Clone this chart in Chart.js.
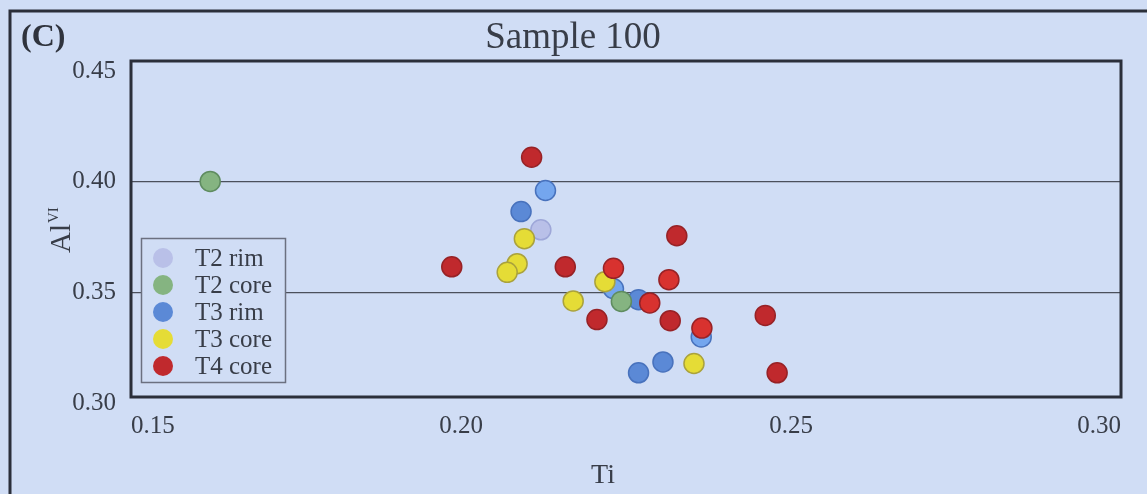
<!DOCTYPE html>
<html>
<head>
<meta charset="utf-8">
<title>Sample 100</title>
<script src="https://cdn.jsdelivr.net/npm/chart.js@4.4.0/dist/chart.umd.min.js"></script>
<style>
  html, body { margin: 0; padding: 0; background: #d0ddf5; }
  #wrapper { position: relative; width: 1147px; height: 494px; }
</style>
</head>
<body>
<div id="wrapper"><canvas id="chart"></canvas></div>
<script>
var seriesLabels = ['T2 rim', 'T2 core', 'T3 rim', 'T3 core', 'T4 core'];

var t2RimTi = [0.2121];
var t2RimAl = [0.3784];
var t2CoreTi = [0.1620, 0.2243];
var t2CoreAl = [0.4002, 0.3461];
var t3RimTi = [0.2128, 0.2091, 0.2231, 0.2269, 0.2364, 0.2306, 0.2269];
var t3RimAl = [0.3961, 0.3866, 0.3518, 0.3469, 0.3301, 0.3188, 0.3139];
var t3CoreTi = [0.2096, 0.2085, 0.2070, 0.2218, 0.2170, 0.2353];
var t3CoreAl = [0.3744, 0.3631, 0.3592, 0.3550, 0.3463, 0.3181];
var t4CoreTi = [0.2107, 0.1986, 0.2158, 0.2231, 0.2286, 0.2206, 0.2327, 0.2315, 0.2317, 0.2365, 0.2461, 0.2479];
var t4CoreAl = [0.4111, 0.3617, 0.3617, 0.3610, 0.3454, 0.3379, 0.3757, 0.3559, 0.3374, 0.3341, 0.3398, 0.3139];

var xTicks = [0.15, 0.20, 0.25, 0.30];
var yTicks = [0.30, 0.35, 0.40, 0.45];
var yGrid = [0.35, 0.40];

var fills = ['#b9c0e8', '#85b481', '#5b89d6', '#e5dc36', '#c0292d'];
var borders = ['#9ea7d8', '#5f8c60', '#4872bd', '#aaa23c', '#972226'];
// some markers in the original carry a lighter fill with a ring
var t3RimFills = ['#74a6ee', '#5b89d6', '#74a6ee', '#5b89d6', '#74a6ee', '#5b89d6', '#5b89d6'];
var t4CoreFills = ['#c0292d', '#c0292d', '#c0292d', '#d8322f', '#d8322f', '#c0292d',
                   '#c0292d', '#d8322f', '#c0292d', '#d8322f', '#c0292d', '#c0292d'];
// later series sit on top, like the original
var drawOrder = [4, 3, 5, 2, 1];

var bg = '#d0ddf5';
var ink = '#383d48';
var serif = '"Liberation Serif", "Times New Roman", serif';

function toPoints(xs, ys) {
    var pts = [];
    for (var i = 0; i < xs.length; i++) {
        pts.push({ x: xs[i], y: ys[i] });
    }
    return pts;
}

var allTi = [t2RimTi, t2CoreTi, t3RimTi, t3CoreTi, t4CoreTi];
var allAl = [t2RimAl, t2CoreAl, t3RimAl, t3CoreAl, t4CoreAl];
var pointFills = [fills[0], fills[1], t3RimFills, fills[3], t4CoreFills];

var datasets = [];
for (var s = 0; s < seriesLabels.length; s++) {
    datasets.push({
        label: seriesLabels[s],
        data: toPoints(allTi[s], allAl[s]),
        backgroundColor: pointFills[s],
        borderColor: borders[s],
        borderWidth: 1.5,
        pointRadius: 10,
        pointHoverRadius: 10,
        order: drawOrder[s]
    });
}

var decorations = {
    id: 'decorations',
    beforeDraw: function(chart) {
        var ctx = chart.ctx;
        ctx.save();
        ctx.fillStyle = bg;
        ctx.fillRect(0, 0, chart.width, chart.height);
        ctx.restore();
    },
    afterDraw: function(chart) {
        var ctx = chart.ctx;
        var a = chart.chartArea;
        ctx.save();

        // outer panel frame
        ctx.strokeStyle = '#2b2f3a';
        ctx.lineWidth = 3;
        ctx.beginPath();
        ctx.moveTo(10, chart.height);
        ctx.lineTo(10, 11);
        ctx.lineTo(chart.width, 11);
        ctx.stroke();

        // plot frame
        ctx.lineWidth = 3;
        ctx.strokeRect(a.left, a.top, a.right - a.left, a.bottom - a.top);

        // legend
        ctx.fillStyle = bg;
        ctx.fillRect(141, 238, 145, 145);
        ctx.strokeStyle = '#6b7080';
        ctx.lineWidth = 1.5;
        ctx.strokeRect(141.5, 238.5, 144, 144);
        ctx.font = '25px ' + serif;
        ctx.textBaseline = 'middle';
        ctx.textAlign = 'left';
        for (var i = 0; i < seriesLabels.length; i++) {
            var cy = 258 + i * 27;
            ctx.beginPath();
            ctx.arc(163, cy, 10, 0, Math.PI * 2);
            ctx.fillStyle = fills[i];
            ctx.fill();
            ctx.fillStyle = ink;
            ctx.fillText(seriesLabels[i], 195, cy + 1);
        }

        // panel letter and title
        ctx.textBaseline = 'alphabetic';
        ctx.fillStyle = '#2f333d';
        ctx.font = 'bold 32px ' + serif;
        ctx.fillText('(C)', 21, 46);
        ctx.fillStyle = ink;
        ctx.font = '37px ' + serif;
        ctx.textAlign = 'center';
        ctx.fillText('Sample 100', 573, 48);

        // x axis title
        ctx.font = '28px ' + serif;
        ctx.fillText('Ti', 603, 483);

        // y axis title, Al with superscript VI
        ctx.translate(70, 253);
        ctx.rotate(-Math.PI / 2);
        ctx.textAlign = 'left';
        ctx.font = '29px ' + serif;
        ctx.fillText('Al', 0, 0);
        var w = ctx.measureText('Al').width;
        ctx.font = '15px ' + serif;
        ctx.fillText('VI', w + 1, -12);

        ctx.restore();
    }
};

var ctx = document.getElementById('chart');
var myChart = new Chart(ctx, {
    type: 'scatter',
    data: { datasets: datasets },
    options: {
        responsive: true,
        maintainAspectRatio: false,
        animation: false,
        events: [],
        layout: { padding: { top: 61, right: 26, bottom: 0, left: 0 } },
        plugins: {
            legend: { display: false },
            title: { display: false },
            tooltip: { enabled: false }
        },
        scales: {
            x: {
                type: 'linear',
                min: 0.15,
                max: 0.30,
                afterBuildTicks: function(scale) {
                    scale.ticks = xTicks.map(function(v) { return { value: v }; });
                },
                afterFit: function(scale) { scale.height = 97; },
                grid: { display: false, drawTicks: false },
                border: { display: false },
                ticks: {
                    align: 'inner',
                    padding: 14,
                    maxRotation: 0,
                    autoSkip: false,
                    color: ink,
                    font: { family: serif, size: 25 },
                    callback: function(v) { return Number(v).toFixed(2); }
                }
            },
            y: {
                type: 'linear',
                min: 0.303,
                max: 0.4545,
                afterBuildTicks: function(scale) {
                    scale.ticks = yTicks.map(function(v) { return { value: v }; });
                },
                afterFit: function(scale) { scale.width = 131; },
                grid: {
                    drawTicks: false,
                    lineWidth: 1.3,
                    color: function(c) {
                        if (c.tick && yGrid.indexOf(Math.round(c.tick.value * 100) / 100) >= 0) {
                            return '#4b505c';
                        }
                        return 'rgba(0,0,0,0)';
                    }
                },
                border: { display: false },
                ticks: {
                    padding: 15,
                    autoSkip: false,
                    color: ink,
                    font: { family: serif, size: 25 },
                    callback: function(v) { return Number(v).toFixed(2); }
                }
            }
        }
    },
    plugins: [decorations]
});
</script>
</body>
</html>
